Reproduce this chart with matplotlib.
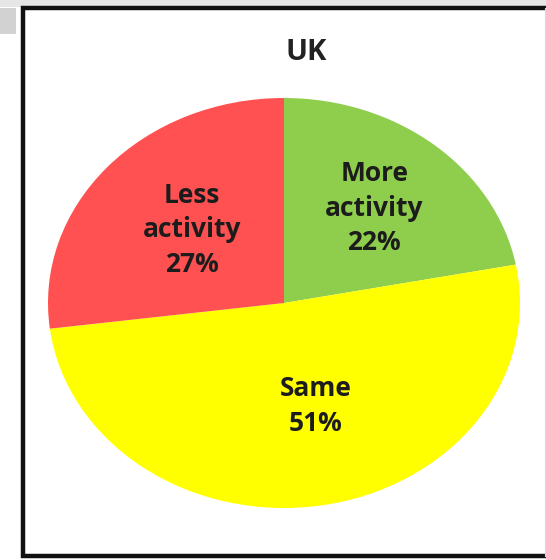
import numpy as np
import matplotlib
matplotlib.use("Agg")
import matplotlib.pyplot as plt
from matplotlib.patches import Rectangle
from matplotlib.lines import Line2D

# Survey answers for the UK
title = "UK"
categories = ["More\nactivity", "Same", "Less\nactivity"]
shares = [22, 51, 27]
colors = ["#8ece4c", "#ffff00", "#ff5151"]

W, H = 546, 560
fig = plt.figure(figsize=(W / 100, H / 100), dpi=100)
fig.patch.set_facecolor("white")

# light grey margin above the frame and soft shadow at the corner
fig.add_artist(Rectangle((0, 1 - 7 / H), 1, 7 / H, transform=fig.transFigure,
                         facecolor="#e6e6e6", edgecolor="none", zorder=0))
fig.add_artist(Rectangle((0, 1 - 34 / H), 16 / W, 26 / H, transform=fig.transFigure,
                         facecolor="#d2d2d2", edgecolor="none", zorder=0))

# chart frame (its right side runs off the edge)
fig.add_artist(Rectangle((23 / W, 4 / H), (W - 20) / W, (H - 12) / H,
                         transform=fig.transFigure, facecolor="white",
                         edgecolor="#111111", linewidth=3.2, zorder=1))
fig.add_artist(Line2D([(W - 1.5) / W] * 2, [4 / H, 1 - 8 / H], transform=fig.transFigure,
                      color="#d8d8d8", linewidth=0.8, zorder=1))

# pie axes (slightly wider than tall)
cx, cy, rx, ry = 284, 303, 236, 205
ax = fig.add_axes([(cx - rx) / W, (H - cy - ry) / H, 2 * rx / W, 2 * ry / H])
ax.set_zorder(2)
wedges, _ = ax.pie(shares, colors=colors, startangle=90, counterclock=False,
                   radius=1, wedgeprops=dict(edgecolor="none"))
ax.set_aspect("auto")
ax.set_xlim(-1, 1)
ax.set_ylim(-1, 1)
ax.axis("off")

label_radius = [0.60, 0.52, 0.53]
angle_shift = [0, 6, -1]
for w, cat, val, r, da in zip(wedges, categories, shares, label_radius, angle_shift):
    mid = np.deg2rad((w.theta1 + w.theta2) / 2 + da)
    ax.text(r * np.cos(mid), r * np.sin(mid), f"{cat}\n{val}%",
            ha="center", va="center", fontsize=19, fontweight="bold",
            family="Open Sans", color="#1c1c1c", linespacing=1.36)

fig.text(306 / W, 1 - 53 / H, title, ha="center", va="center", fontsize=21,
         fontweight="bold", family="Open Sans", color="#222222", zorder=3)

fig.savefig("out.png", dpi=100)
